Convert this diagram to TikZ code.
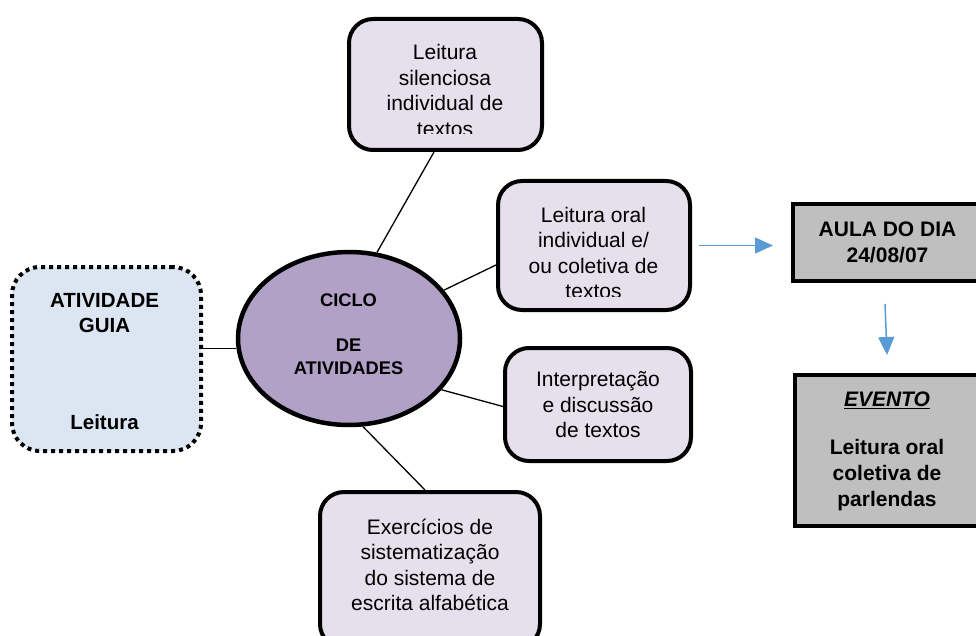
\documentclass[tikz,border=0pt]{standalone}
\usepackage{fontspec}
\setmainfont{Liberation Sans}
\usetikzlibrary{shapes.geometric,arrows.meta}
\definecolor{boxfill}{HTML}{E5E0EC}
\definecolor{guiafill}{HTML}{DCE6F2}
\definecolor{ciclofill}{HTML}{B2A1C7}
\definecolor{grayfill}{HTML}{BFBFBF}
\definecolor{arrowblue}{HTML}{5B9BD5}
\begin{document}
\begin{tikzpicture}[x=1pt,y=-1pt,
  box/.style={draw=black,line width=4pt,fill=boxfill,rounded corners=24pt,inner sep=0pt},
  gbox/.style={draw=black,line width=4pt,fill=grayfill,inner sep=0pt},
  txt/.style={align=center,font=\fontsize{21}{25.5}\selectfont,inner sep=0pt},
  btxt/.style={align=center,font=\fontsize{21}{26}\selectfont\bfseries,inner sep=0pt},
  link/.style={draw=black,line width=1.3pt},
  arr/.style={draw=arrowblue,line width=1.5pt,-{Triangle[length=18pt,width=16pt]}}]
\useasboundingbox (0,0) rectangle (976,636);
\fill[white] (0,0) rectangle (976,636);
% shapes
\node[draw=black,line width=4pt,dash pattern=on 4pt off 4pt,fill=guiafill,rounded corners=28pt,inner sep=0pt,minimum width=189pt,minimum height=184pt] (guia) at (106.5,359) {};
\node[ellipse,draw=black,line width=4.5pt,fill=ciclofill,inner sep=0pt,minimum width=222pt,minimum height=173pt] (ciclo) at (349,338.5) {};
\node[box,minimum width=193pt,minimum height=131pt] (b1) at (445.5,84.5) {};
\node[box,minimum width=192pt,minimum height=129pt] (b2) at (594,245.5) {};
\node[box,minimum width=186pt,minimum height=113pt] (b3) at (598,404.5) {};
\node[box,minimum width=220pt,minimum height=156pt] (b4) at (430,570) {};
\node[gbox,minimum width=197pt,minimum height=77pt] (aula) at (891.5,242.5) {};
\node[gbox,minimum width=195pt,minimum height=151pt] (evento) at (892.5,450.5) {};
% connectors
\draw[link] (ciclo.185) -- (ciclo.185 -| guia.east);
\draw[link] (ciclo.72) -- ([xshift=-11.5pt]b1.south);
\draw[link] (ciclo.27) -- ([yshift=-19.5pt]b2.west);
\draw[link] (ciclo.-29.5) -- ([yshift=-2pt]b3.west);
\draw[link] (ciclo.-81) -- ([xshift=-5pt]b4.north);
\draw[arr] ([xshift=7pt]b2.east) -- ([xshift=-18pt]b2.east -| aula.west);
\draw[arr] ([xshift=-6.5pt,yshift=-21pt]aula.south) -- ([xshift=-5.5pt,yshift=18pt]evento.north);
% texts
\node[btxt,font=\fontsize{20.5}{25}\selectfont\bfseries] (tguia) at (104.5,362) {ATIVIDADE\\GUIA\\[72pt]Leitura};
\node[btxt,font=\fontsize{18.3}{23}\selectfont\bfseries] (tciclo) at (348.5,334) {CICLO\\[22pt]DE\\ATIVIDADES};
\begin{scope}
\clip (b1.north west) rectangle (b1.east |- 0,134);
\node[txt] (t1) at (445,90.5) {Leitura\\silenciosa\\individual de\\textos};
\end{scope}
\begin{scope}
\clip (b2.north west) rectangle (b2.east |- 0,296);
\node[txt] (t2) at (593.5,253) {Leitura oral\\individual e/\\ou coletiva de\\textos};
\end{scope}
\node[txt] (t3) at (598,405) {Interpretação\\e discussão\\de textos};
\node[txt] (t4) at (430,565) {Exercícios de\\sistematização\\do sistema de\\escrita alfabética};
\node[btxt] (taula) at (887.5,242.5) {AULA DO DIA\\24/08/07};
\node[btxt] (tevento) at (887,451.5) {\underline{\textit{EVENTO}}\\[22pt]Leitura oral\\coletiva de\\parlendas};
\end{tikzpicture}
\end{document}
